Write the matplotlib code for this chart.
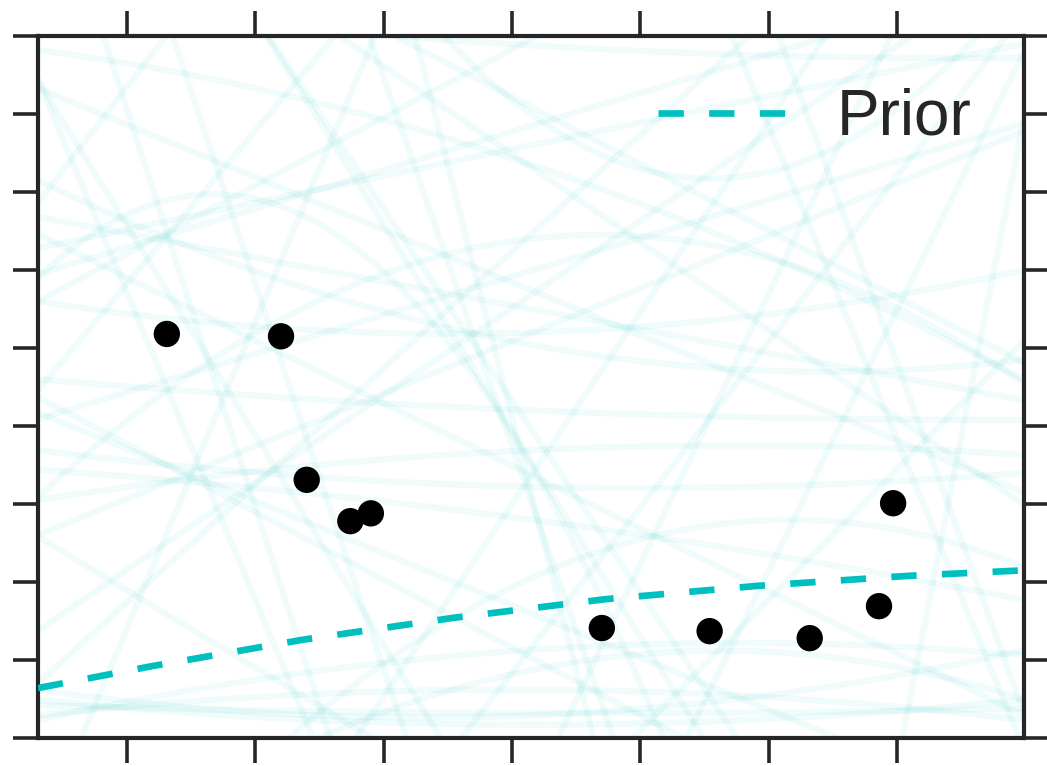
import numpy as np
import matplotlib
matplotlib.use("Agg")
import matplotlib.pyplot as plt

plt.rcParams['font.family'] = ['Liberation Sans', 'DejaVu Sans']

# Observations
obs_x = [1.31, 2.20, 2.40, 2.74, 2.90, 4.70, 5.54, 6.32, 6.86, 6.97]
obs_y = [5.18, 5.15, 3.31, 2.78, 2.88, 1.41, 1.37, 1.28, 1.69, 3.01]

# Prior mean curve
prior_x = [0.306, 1.19, 2.37, 3.54, 4.73, 5.91, 7.10, 7.99]
prior_mean = [0.64, 0.92, 1.26, 1.54, 1.78, 1.95, 2.08, 2.15]

# Prior function draws: value at the left edge, centre and right edge of the x range
draw_left = [8.82, 5.9, 18.8, 9.46, 11.6, 6.86, 14.2, 13.4, 4.46, 4.37,
             2.58, 1.38, 3.69, 3.44, 0.49, 0.29, 4.6, 3.05, -3.5, 0.23,
             28.0, -6.1, -7.8, 30.8, -14.1, 4.09, 11.4, 11.65, 5.6, 5.95,
             8.33, 3.09, 6.68, 7.15, 0.7, 2.6, 21.2, 13.7, -7.0, 0.42,
             0.62, -57.6, 35.4, -1.32, 8.44, 4.17, 8.43, 6.46, -2.1, -16.9,
             6.28, 5.6]
draw_mid = [7.35, 3.5, 8.0, 8.88, -8.0, 15.1, -4.8, 3.96, 12.0, 1.03,
            -1.22, 5.68, 3.22, 2.8, 0.17, 0.62, 4.2, 3.69, 2.05, 1.13,
            3.15, 3.36, -1.33, 15.3, -0.73, 5.99, 8.09, 7.32, 8.96, 7.85,
            5.74, 6.4, 5.5, 5.04, 6.46, 5.19, 3.04, 3.55, 1.15, 0.32,
            0.29, -24.5, 17.8, 13.8, -6.7, 1.6, -1.9, 3.37, 0.87, -4.05,
            7.6, 5.2]
draw_right = [4.59, -15.7, 9.7, 8.72, -27.6, 23.3, -23.8, -5.5, 19.5, -2.3,
              -5.0, 9.98, 3.4, 1.77, 0.49, 0.23, 4.08, 3.63, 2.19, 1.06,
              -21.7, 12.8, 5.1, -0.15, 12.6, 7.88, 4.81, 2.99, 12.3, 9.74,
              3.15, 4.54, 4.33, 4.85, 12.2, 7.78, -15.1, -6.6, 9.3, 0.38,
              1.13, 7.95, 0.32, 29.0, -21.9, -0.97, -12.3, 0.29, 0.49, 8.8,
              8.9, 6.0]

x_lo, x_hi = 0.306, 7.99
x_ticks = [1, 2, 3, 4, 5, 6, 7]
y_ticks = [0, 1, 2, 3, 4, 5, 6, 7, 8, 9]

cyan = '#00BFBF'
dark = '#262626'

fig = plt.figure(figsize=(10.47, 7.66), dpi=100)
ax = fig.add_axes([38 / 1047, 28 / 766, 986 / 1047, 702 / 766])

anchors = np.array([x_lo, (x_lo + x_hi) / 2, x_hi])
xs = np.linspace(x_lo, x_hi, 300)
for l, m, r in zip(draw_left, draw_mid, draw_right):
    coef = np.polyfit(anchors, [l, m, r], 2)
    ax.plot(xs, np.polyval(coef, xs), color=cyan, alpha=0.06, lw=4.5,
            solid_capstyle='butt', zorder=1)

ax.plot(prior_x, prior_mean, color=cyan, lw=4.8, dashes=(3.8, 3.8),
        label='Prior', zorder=3)
ax.scatter(obs_x, obs_y, s=360, color='black', edgecolors='none', zorder=4)

ax.set_xlim(x_lo, x_hi)
ax.set_ylim(0, 9)
ax.set_xticks(x_ticks)
ax.set_yticks(y_ticks)
ax.tick_params(which='both', direction='out', length=18, width=2.6,
               color=dark, top=True, right=True,
               labelbottom=False, labelleft=False)
for sp in ax.spines.values():
    sp.set_linewidth(3)
    sp.set_color(dark)

leg = ax.legend(loc='upper right', bbox_to_anchor=(0.947, 0.926), frameon=False,
                fontsize=46, handlelength=2.0, handletextpad=0.8,
                borderaxespad=0.0, borderpad=0.0)
for t in leg.get_texts():
    t.set_color(dark)

fig.savefig('out.png', dpi=100, facecolor='white')
